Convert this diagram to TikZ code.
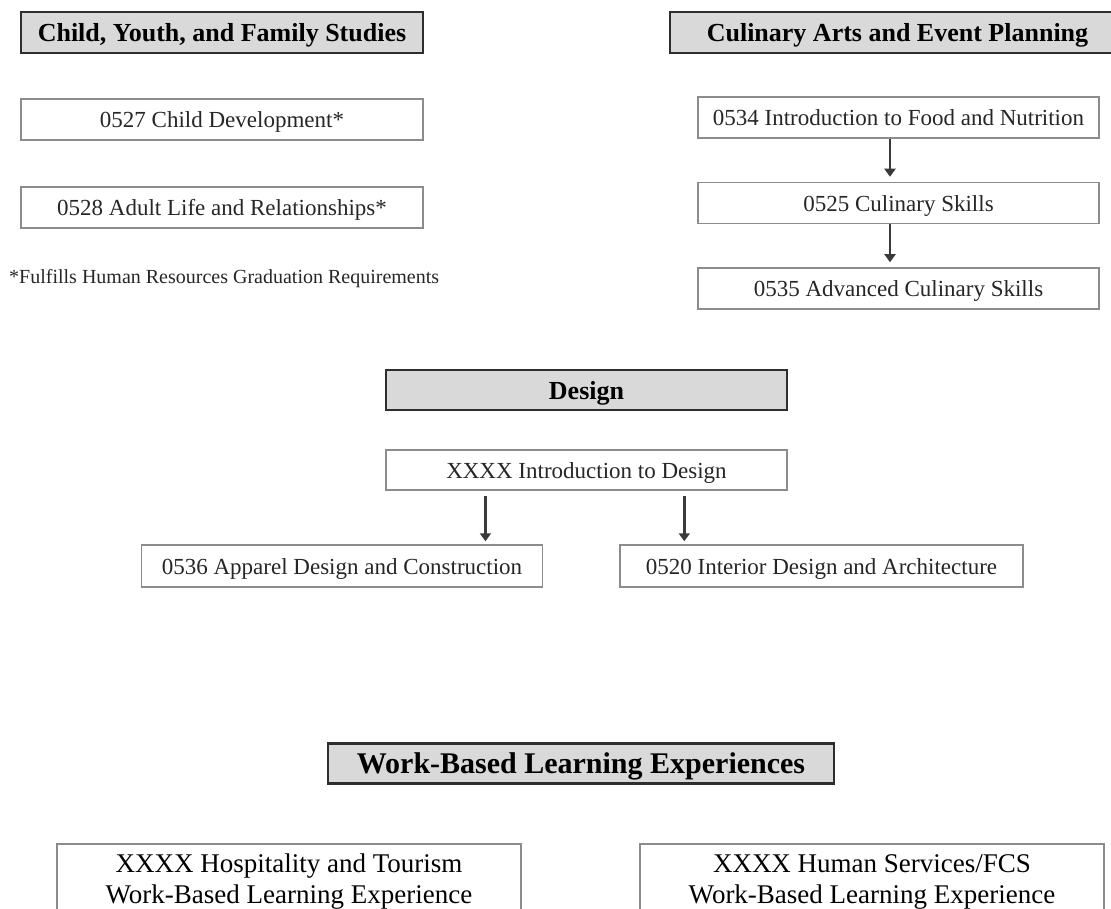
\documentclass[tikz,border=0pt]{standalone}
\usepackage{fontspec}
\setmainfont{Liberation Serif}
\usetikzlibrary{arrows.meta,calc}
\definecolor{hdrfill}{HTML}{D9D9D9}
\definecolor{hdrline}{HTML}{2E2E2E}
\definecolor{boxline}{HTML}{8C8C8C}
\definecolor{arrline}{HTML}{3A3A3A}
\tikzset{
  hdr/.style={draw=hdrline, line width=2.8pt, fill=hdrfill, inner sep=0pt,
    font=\fontsize{26}{30}\selectfont\bfseries, text=black,
    text height=21pt, text depth=3pt},
  course/.style={draw=boxline, line width=1.5pt, fill=white, inner sep=0pt,
    font=\fontsize{23}{27}\selectfont, text=black!85,
    text height=20pt, text depth=3pt},
  wbl/.style={draw=boxline, line width=1.5pt, fill=white, inner sep=0pt},
  wbltext/.style={font=\fontsize{27}{31}\selectfont, text=black, align=center, inner sep=0pt, anchor=north},
  arr/.style={draw=arrline, line width=2.5pt, -{Triangle[length=8pt,width=11pt]}},
  note/.style={font=\fontsize{20}{24}\selectfont, text=black!85, inner sep=0pt}
}
\begin{document}
\begin{tikzpicture}[x=1pt,y=-1pt]
\useasboundingbox (0,0) rectangle (1111,909);
% Child, Youth, and Family Studies
\node[hdr, minimum width=402pt, minimum height=41pt] (h1) at (222,32.5) {Child, Youth, and Family Studies};
\node[course, minimum width=402pt, minimum height=41pt] (c0527) at (222,119.5) {0527 Child Development*};
\node[course, minimum width=402pt, minimum height=41pt] (c0528) at (222,207.5) {0528 Adult Life and Relationships*};
\node[note, anchor=base west] (foot) at (9,284) {*Fulfills Human Resources Graduation Requirements};
% Culinary Arts
\node[hdr, minimum width=455pt, minimum height=41pt] (h2) at (897.5,32.5) {Culinary Arts and Event Planning};
\node[course, minimum width=401pt, minimum height=41pt] (c0534) at (898.5,117.5) {0534 Introduction to Food and Nutrition};
\node[course, minimum width=401pt, minimum height=41pt] (c0525) at (898.5,203) {0525 Culinary Skills};
\node[course, minimum width=401pt, minimum height=41pt] (c0535) at (898.5,288.5) {0535 Advanced Culinary Skills};
\coordinate (a1) at ($(c0534.south)+(-8.5,0)$);
\coordinate (a2) at ($(c0525.south)+(-8.5,0)$);
\draw[arr, shorten >=5pt] (a1) -- (a1 |- c0525.north);
\draw[arr, shorten >=5pt] (a2) -- (a2 |- c0535.north);
% Design
\node[hdr, minimum width=401pt, minimum height=40pt] (h3) at (586.5,390) {Design};
\node[course, minimum width=401pt, minimum height=40pt] (intro) at (586.5,470) {XXXX Introduction to Design};
\node[course, minimum width=401pt, minimum height=42pt] (c0536) at (342,566) {0536 Apparel Design and Construction};
\node[course, minimum width=403pt, minimum height=42pt] (c0520) at (821.5,566) {0520 Interior Design and Architecture};
\coordinate (d1) at ($(intro.south west)!0.249!(intro.south east)$);
\coordinate (d2) at ($(intro.south west)!0.743!(intro.south east)$);
\draw[arr, shorten <=5pt, shorten >=3pt] (d1) -- (d1 |- c0536.north);
\draw[arr, shorten <=5pt, shorten >=3pt] (d2) -- (d2 |- c0520.north);
% Work-Based Learning
\node[hdr, minimum width=506pt, minimum height=40pt, font=\fontsize{30}{34}\selectfont\bfseries,
  text height=23pt, text depth=4pt] (h4) at (581,763.5) {Work-Based Learning Experiences};
\node[wbl, minimum width=464pt, minimum height=90pt, anchor=north] (w1) at (289,843) {};
\node[wbl, minimum width=464pt, minimum height=90pt, anchor=north] (w2) at (872,843) {};
\node[wbltext] (w1t) at (289,854) {XXXX Hospitality and Tourism\\Work-Based Learning Experience};
\node[wbltext] (w2t) at (872,854) {XXXX Human Services/FCS\\Work-Based Learning Experience};
\end{tikzpicture}
\end{document}
